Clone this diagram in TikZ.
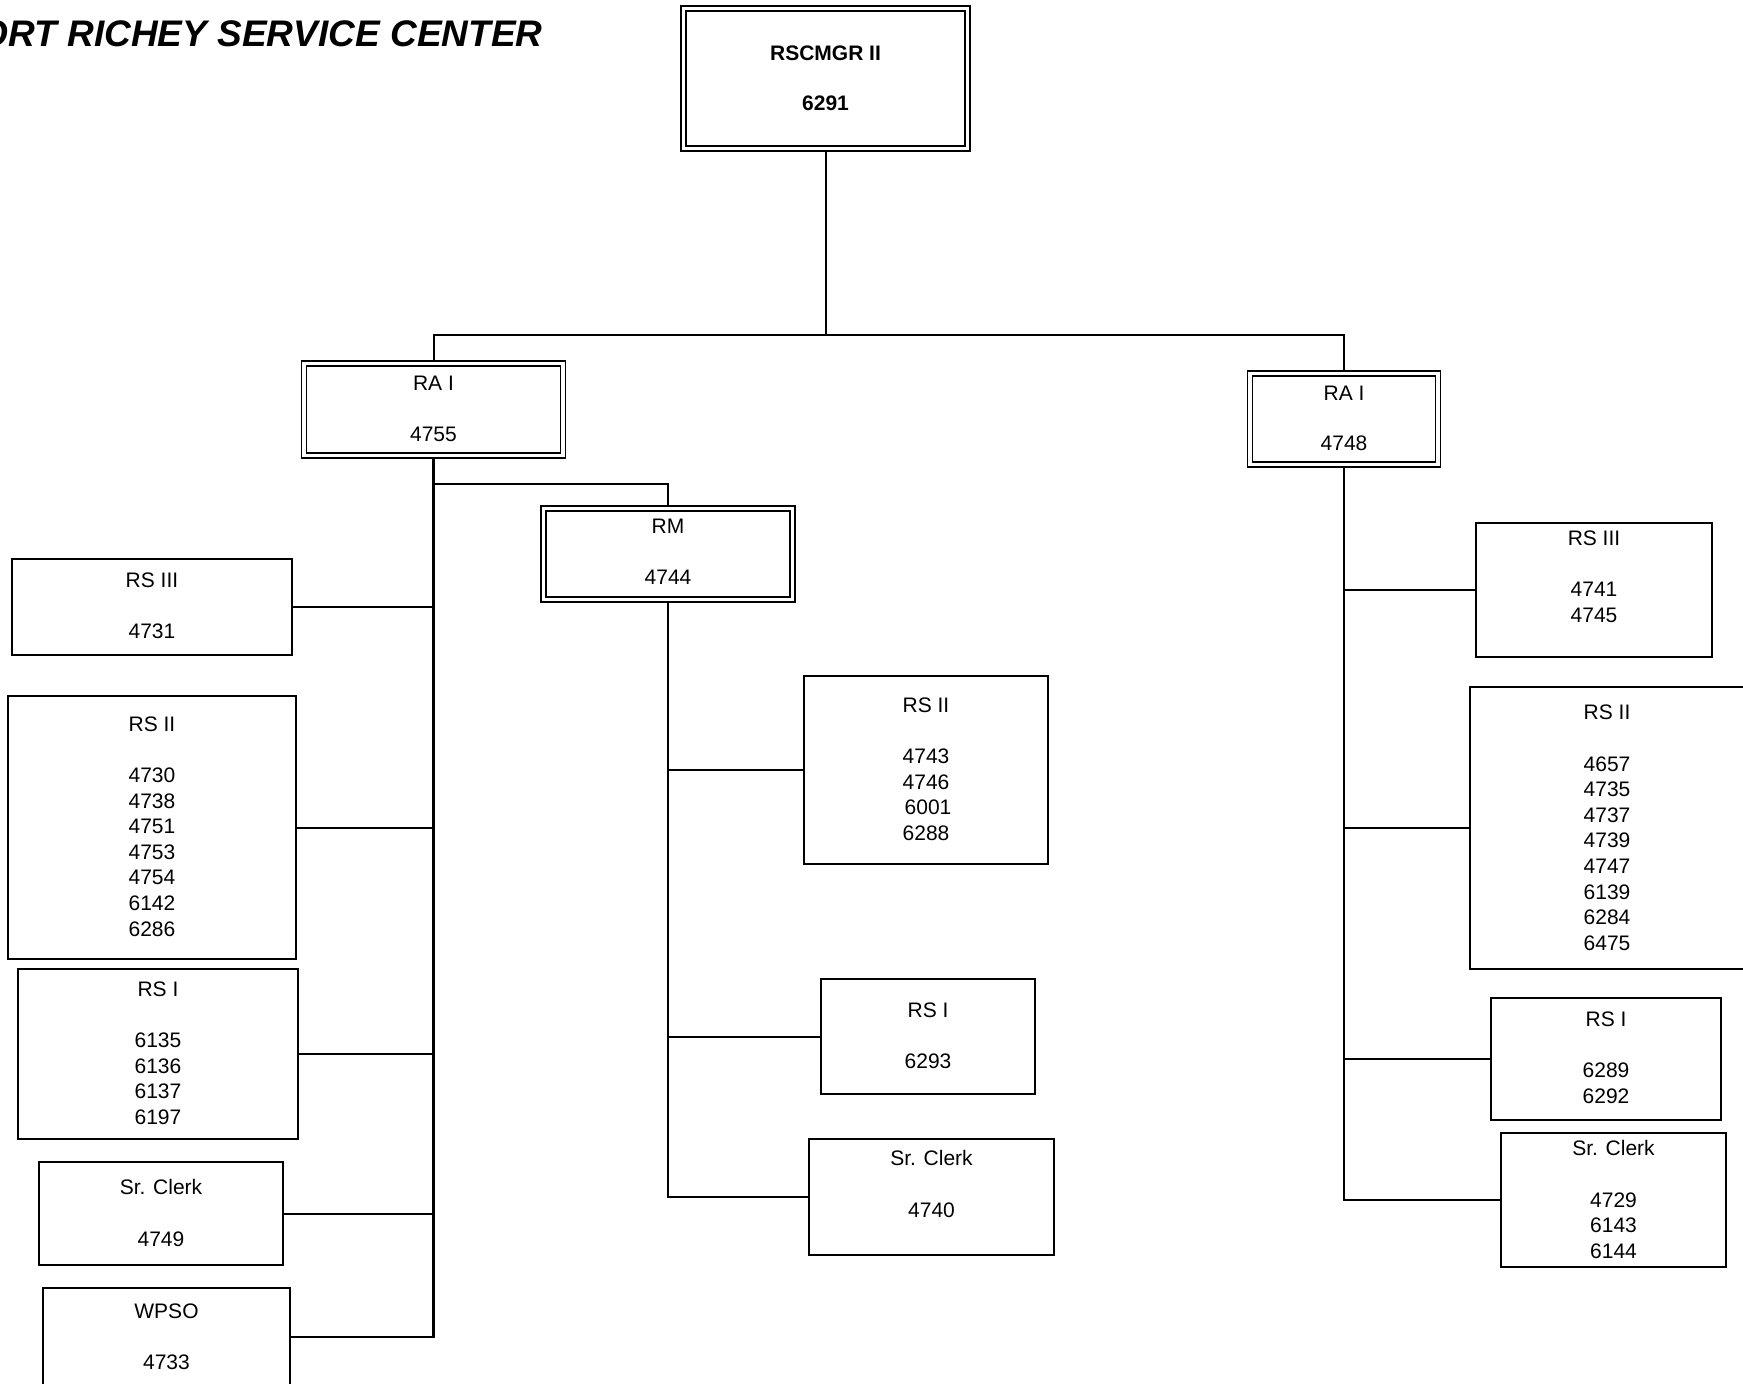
\documentclass[tikz,border=0pt]{standalone}
\usepackage{fontspec}
\setmainfont{Liberation Sans}
\pgfdeclarelayer{bg}
\pgfsetlayers{bg,main}
\tikzset{
  box/.style={draw, fill=white, line width=2pt, inner sep=0pt, outer sep=0pt},
  dbox/.style={draw, fill=white, double=white, double distance=3.4pt, line width=1.6pt, inner sep=0pt, outer sep=0pt},
  lbl/.style={anchor=north, inner sep=0pt, align=center, font=\fontsize{21}{25.6}\selectfont},
  heading/.style={anchor=base west, inner sep=0pt, font=\fontsize{37}{44}\selectfont\bfseries\itshape},
  conn/.style={line width=2pt},
  trunk/.style={line width=2.8pt, line cap=rect},
}
% #1 box style, #2 name, #3,#4 centre, #5 width, #6 height, #7 first text line, #8 text
\newcommand\orgbox[8]{%
  \node[#1, minimum width=#5pt, minimum height=#6pt] (#2) at (#3,#4) {};
  \node[lbl] (#2-t) at (#3,#7-7.5) {#8};}
\begin{document}
\begin{tikzpicture}[x=1pt,y=-1pt]
\useasboundingbox (0,0) rectangle (1743,1384);
\clip (0,0) rectangle (1743,1384);

\node[heading] (hdr) at (-45,46) {PORT RICHEY SERVICE CENTER};

% manager
\node[dbox, minimum width=284pt, minimum height=140pt] (top) at (825.5,78.5) {};
\node[lbl, font=\fontsize{21}{25.6}\selectfont\bfseries] (top-t) at (825.5,53-7.5) {RSCMGR II\\[24.4pt]6291};

% second level
\orgbox{dbox}{raL}{433.5}{409.5}{259}{92}{383}{RA I\\[26pt]4755}
\orgbox{dbox}{raR}{1344}{419}{188}{91}{393}{RA I\\[25pt]4748}
\orgbox{dbox}{rm}{668}{554}{249}{91}{526}{RM\\[25.6pt]4744}

% left group
\orgbox{box}{l1}{152}{607}{280}{96}{580}{RS III\\[25.6pt]4731}
\orgbox{box}{l2}{152}{827.5}{288}{263}{724}{RS II\\[25.6pt]4730\\4738\\4751\\4753\\4754\\6142\\6286}
\orgbox{box}{l3}{158}{1054}{280}{170}{989}{RS I\\[25.6pt]6135\\6136\\6137\\6197}
\orgbox{box}{l4}{161}{1213.5}{244}{103}{1187}{Sr. Clerk\\[25.6pt]4749}
\orgbox{box}{l5}{166.5}{1337}{247}{98}{1311}{WPSO\\[25.6pt]4733}

% middle group
\orgbox{box}{m1}{926}{770}{244}{188}{705}{RS II\\[25.6pt]4743\\4746\\\hspace*{4pt}6001\\6288}
\orgbox{box}{m2}{928}{1036.5}{214}{115}{1010}{RS I\\[25.6pt]6293}
\orgbox{box}{m3}{931.5}{1197}{245}{116}{1158}{Sr. Clerk\\[25.6pt]4740}

% right group
\orgbox{box}{r1}{1594}{590}{236}{134}{538}{RS III\\[25.6pt]4741\\4745}
\orgbox{box}{r2}{1607}{828}{274}{282}{712.5}{RS II\\[25.6pt]4657\\4735\\4737\\4739\\4747\\6139\\6284\\6475}
\orgbox{box}{r3}{1606}{1059}{230}{122}{1019}{RS I\\[25.6pt]6289\\6292}
\orgbox{box}{r4}{1613.5}{1200}{225}{134}{1148}{Sr. Clerk\\[25.6pt]4729\\6143\\6144}

\begin{pgfonlayer}{bg}
  \coordinate (bus) at (825.5,335);
  \coordinate (rmjoin) at (433.5,484);
  \draw[conn] (top.south) -- (bus);
  \draw[conn] (raL.north) |- (bus) -| (raR.north);
  \draw[conn] (rmjoin) -| (rm.north);
  % trunks
  \draw[trunk] (raL.south) -- (raL.south |- l5.east);
  \draw[trunk] (rm.south) -- (rm.south |- m3.west);
  \draw[trunk] (raR.south) -- (raR.south |- r4.west);
  % branches
  \foreach \n in {l1,l2,l3,l4,l5}
    \draw[conn] (\n.east) -- (\n.east -| raL.south);
  \foreach \n in {m1,m2,m3}
    \draw[conn] (\n.west) -- (\n.west -| rm.south);
  \foreach \n in {r1,r2,r3,r4}
    \draw[conn] (\n.west) -- (\n.west -| raR.south);
\end{pgfonlayer}
\end{tikzpicture}
\end{document}
